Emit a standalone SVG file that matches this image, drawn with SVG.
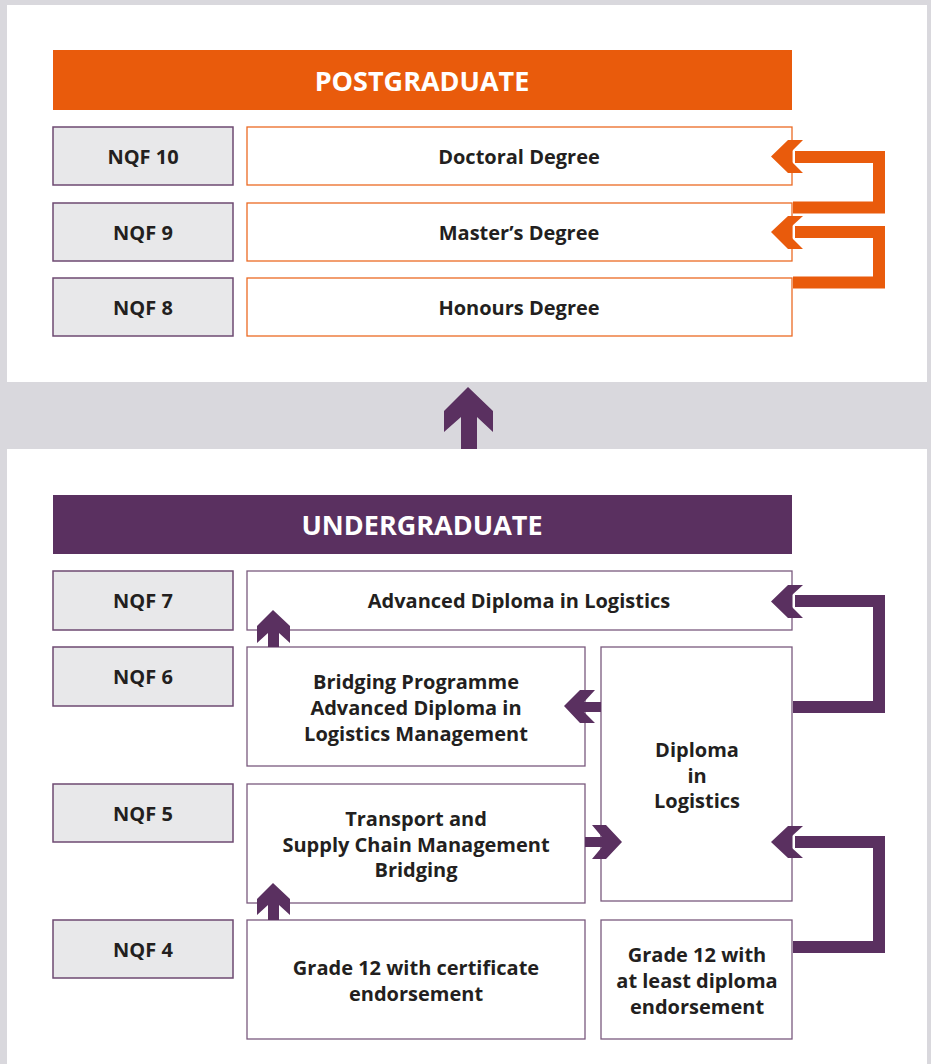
<svg xmlns="http://www.w3.org/2000/svg" width="931" height="1064" viewBox="0 0 931 1064">
<style>
.bg{fill:#d9d8dd}
.panel{fill:#ffffff}
.nqf{fill:#e8e8ea;stroke:#6e4a72;stroke-width:1.5}
.boxo{fill:#ffffff;stroke:#ec6a24;stroke-width:1.3}
.boxp{fill:#ffffff;stroke:#7a5a7e;stroke-width:1.3}
.t{font-family:"Open Sans","Noto Sans","Liberation Sans",sans-serif;font-weight:700;font-size:20px;fill:#231f20;text-anchor:middle}
.h{font-family:"Open Sans","Noto Sans","Liberation Sans",sans-serif;font-weight:700;font-size:27px;fill:#ffffff;text-anchor:middle}
.co{fill:none;stroke:#e95b0c;stroke-width:12}
.cp{fill:none;stroke:#5a3060;stroke-width:12}
.ao{fill:#e95b0c}
.ap{fill:#5a3060}
</style>
<rect class="bg" x="0" y="0" width="931" height="1064"/>
<rect class="panel" x="7" y="5" width="920" height="377"/>
<rect class="panel" x="7" y="449" width="920" height="615"/>

<g id="postgraduate-header">
<rect x="53" y="50" width="739" height="60" fill="#e95b0c"/>
<text class="h" x="422" y="91">POSTGRADUATE</text>
</g>
<g id="nqf10"><rect class="nqf" x="53" y="127" width="180" height="58"/><text class="t" x="143" y="164">NQF 10</text></g>
<g id="nqf9"><rect class="nqf" x="53" y="203" width="180" height="58"/><text class="t" x="143" y="240">NQF 9</text></g>
<g id="nqf8"><rect class="nqf" x="53" y="278" width="180" height="58"/><text class="t" x="143" y="315">NQF 8</text></g>
<g id="doctoral"><rect class="boxo" x="247" y="127" width="545" height="58"/><text class="t" x="519" y="164">Doctoral Degree</text></g>
<g id="masters"><rect class="boxo" x="247" y="203" width="545" height="58"/><text class="t" x="519" y="240">Master’s Degree</text></g>
<g id="honours"><rect class="boxo" x="247" y="278" width="545" height="58"/><text class="t" x="519" y="315">Honours Degree</text></g>

<g id="undergraduate-header">
<rect x="53" y="495" width="739" height="59" fill="#5a3060"/>
<text class="h" x="422" y="535">UNDERGRADUATE</text>
</g>
<g id="nqf7"><rect class="nqf" x="53" y="571" width="180" height="59"/><text class="t" x="143" y="608">NQF 7</text></g>
<g id="nqf6"><rect class="nqf" x="53" y="647" width="180" height="59"/><text class="t" x="143" y="684">NQF 6</text></g>
<g id="nqf5"><rect class="nqf" x="53" y="784" width="180" height="58"/><text class="t" x="143" y="821">NQF 5</text></g>
<g id="nqf4"><rect class="nqf" x="53" y="920" width="180" height="58"/><text class="t" x="143" y="957">NQF 4</text></g>

<g id="advanced-diploma"><rect class="boxp" x="247" y="571" width="545" height="59"/><text class="t" x="519" y="608">Advanced Diploma in Logistics</text></g>
<g id="bridging-programme"><rect class="boxp" x="247" y="647" width="338" height="119"/>
<text class="t" x="416" y="689">Bridging Programme</text><text class="t" x="416" y="715">Advanced Diploma in</text><text class="t" x="416" y="741">Logistics Management</text></g>
<g id="diploma"><rect class="boxp" x="601" y="647" width="191" height="254"/>
<text class="t" x="697" y="757">Diploma</text><text class="t" x="697" y="783">in</text><text class="t" x="697" y="808">Logistics</text></g>
<g id="transport"><rect class="boxp" x="247" y="784" width="338" height="119"/>
<text class="t" x="416" y="826">Transport and</text><text class="t" x="416" y="852">Supply Chain Management</text><text class="t" x="416" y="877">Bridging</text></g>
<g id="grade12-cert"><rect class="boxp" x="247" y="920" width="338" height="119"/>
<text class="t" x="416" y="975">Grade 12 with certificate</text><text class="t" x="416" y="1001">endorsement</text></g>
<g id="grade12-diploma"><rect class="boxp" x="601" y="920" width="191" height="119"/>
<text class="t" x="697" y="962">Grade 12 with</text><text class="t" x="697" y="988">at least diploma</text><text class="t" x="697" y="1014">endorsement</text></g>

<g id="connectors">
<path class="co" d="M793 207.5 H879 V157 H795"/>
<polygon class="ao" points="771,156.5 788,140 803,140 792,151 792,162 803,173 788,173"/>
<path class="co" d="M793 282.5 H879 V232 H795"/>
<polygon class="ao" points="771,232 788,216 803,216 792,226 792,238 803,249 788,249"/>

<polygon class="ap" points="468,387 493,411 493,432 477,417 477,449 461,449 461,417 444,432 444,411"/>

<path class="cp" d="M793 707 H879 V601 H795"/>
<polygon class="ap" points="771,601.5 788,585 803,585 792,595 792,607 803,618 788,618"/>
<path class="cp" d="M793 947 H879 V842 H795"/>
<polygon class="ap" points="771,842 788,826 803,826 792,836 792,848 803,858 788,858"/>

<polygon class="ap" points="273,610 290,626 290,643 279,633 279,647 268,647 268,633 257,643 257,626"/>
<polygon class="ap" points="273,883 290,899 290,915 279,905 279,920 268,920 268,905 257,915 257,899"/>

<polygon class="ap" points="564,706 580,690 595,690 584,702 601,702 601,712 584,712 595,723 580,723"/>
<polygon class="ap" points="622,842 606,825 592,825 602,837 585,837 585,847 602,847 592,859 606,859"/>
</g>
</svg>
